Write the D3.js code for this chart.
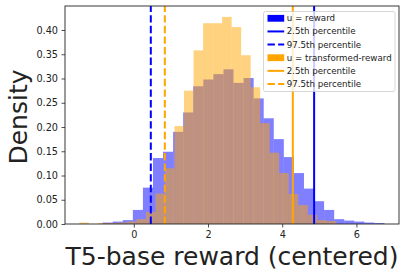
<!DOCTYPE html>
<html>
<head>
<meta charset="utf-8">
<script src="https://cdn.jsdelivr.net/npm/d3@7"></script>
<style>
  body { margin: 0; background: #fff; }
  text { font-family: "DejaVu Sans", sans-serif; fill: #222; }
</style>
</head>
<body>
<svg id="chart" width="406" height="276"></svg>
<script>

// histogram bins (range + count) and density per bin
var rewardRange = [-0.84, 6.757];
var rewardDensity = [0.003, 0.005, 0.008, 0.029, 0.075, 0.136, 0.149, 0.190, 0.230, 0.284,
  0.298, 0.309, 0.319, 0.291, 0.301, 0.259, 0.218, 0.175, 0.138, 0.105,
  0.073, 0.047, 0.029, 0.010, 0.007, 0.005, 0.003, 0.002];

var transformedRange = [-1.47, 5.46];
var transformedDensity = [0.003, 0, 0.002, 0.002, 0.003, 0.005, 0.010, 0.025, 0.063, 0.115,
  0.202, 0.275, 0.358, 0.414, 0.414, 0.427, 0.406, 0.348, 0.282, 0.208,
  0.147, 0.105, 0.062, 0.039, 0.019, 0.008, 0.006];

// percentile lines
var rewardLow = 4.86, rewardHigh = 0.458;
var transformedLow = 4.286, transformedHigh = 0.836;

var xTicks = [0, 2, 4, 6];
var yTicks = [0, 0.05, 0.10, 0.15, 0.20, 0.25, 0.30, 0.35, 0.40];

var legendLabels = ["u = reward", "2.5th percentile", "97.5th percentile",
  "u = transformed-reward", "2.5th percentile", "97.5th percentile"];

var margin = {top: 6, right: 7, bottom: 52, left: 65},
    width = 406 - margin.left - margin.right,
    height = 276 - margin.top - margin.bottom;

var svg = d3.select("#chart");
var g = svg.append("g")
    .attr("transform", "translate(" + margin.left + "," + margin.top + ")");

var x = d3.scaleLinear().domain([-1.855, 7.148]).range([0, width]);
var y = d3.scaleLinear().domain([0, 0.4495]).range([height, 0]);

function toBins(range, values) {
  var step = (range[1] - range[0]) / values.length;
  return values.map(function(v, i) {
    return {x0: range[0] + i * step, x1: range[0] + (i + 1) * step, v: v};
  });
}

function drawHist(values, range, color) {
  g.append("g").selectAll("rect")
    .data(toBins(range, values).filter(function(d) { return d.v > 0; }))
    .enter().append("rect")
      .attr("x", function(d) { return x(d.x0); })
      .attr("width", function(d) { return x(d.x1) - x(d.x0); })
      .attr("y", function(d) { return y(d.v); })
      .attr("height", function(d) { return height - y(d.v); })
      .attr("fill", color)
      .attr("fill-opacity", 0.5);
}

drawHist(rewardDensity, rewardRange, "blue");
drawHist(transformedDensity, transformedRange, "orange");

function vline(val, color, dashed) {
  g.append("line")
    .attr("x1", x(val)).attr("x2", x(val))
    .attr("y1", height).attr("y2", 0)
    .attr("stroke", color)
    .attr("stroke-width", 2)
    .attr("stroke-dasharray", dashed ? "7.4,3.2" : null);
}

vline(rewardLow, "blue", false);
vline(rewardHigh, "blue", true);
vline(transformedLow, "orange", false);
vline(transformedHigh, "orange", true);

// axes
var xAxis = g.append("g")
    .attr("transform", "translate(0," + height + ")")
    .call(d3.axisBottom(x).tickValues(xTicks).tickFormat(d3.format("d")).tickSize(3.5).tickPadding(3.5));
var yAxis = g.append("g")
    .call(d3.axisLeft(y).tickValues(yTicks).tickFormat(d3.format(".2f")).tickSize(3.5).tickPadding(3.5));

[xAxis, yAxis].forEach(function(a) {
  a.select(".domain").remove();
  a.selectAll("line").attr("stroke", "#222").attr("stroke-width", 0.8);
  a.selectAll("text").style("font-size", "9.7px").attr("fill", "#222");
});

g.append("rect")
  .attr("width", width).attr("height", height)
  .attr("fill", "none")
  .attr("stroke", "#222")
  .attr("stroke-width", 0.9);

// axis labels
svg.append("text")
  .attr("x", margin.left + width / 2)
  .attr("y", 265)
  .attr("text-anchor", "middle")
  .style("font-size", "25px")
  .text("T5-base reward (centered)");

svg.append("text")
  .attr("transform", "translate(27," + 117 + ") rotate(-90)")
  .attr("text-anchor", "middle")
  .style("font-size", "25px")
  .text("Density");

// legend
var legend = svg.append("g").attr("transform", "translate(263.5,11.5)");
legend.append("rect")
  .attr("width", 131.5).attr("height", 80)
  .attr("rx", 2)
  .attr("fill", "#fff").attr("fill-opacity", 0.8)
  .attr("stroke", "#ccc").attr("stroke-width", 0.8);

var legendKinds = ["patch", "solid", "dash", "patch", "solid", "dash"];
var legendColors = ["blue", "blue", "blue", "orange", "orange", "orange"];

legendLabels.forEach(function(lab, i) {
  var cy = 6.8 + i * 13.14;
  if (legendKinds[i] == "patch") {
    legend.append("rect")
      .attr("x", 4).attr("y", cy - 3.4)
      .attr("width", 16.7).attr("height", 6.8)
      .attr("fill", legendColors[i]);
  } else {
    legend.append("line")
      .attr("x1", 4).attr("x2", 20.7)
      .attr("y1", cy).attr("y2", cy)
      .attr("stroke", legendColors[i])
      .attr("stroke-width", 2)
      .attr("stroke-dasharray", legendKinds[i] == "dash" ? "7.4,3.2" : null);
  }
  legend.append("text")
    .attr("x", 23.2)
    .attr("y", cy)
    .attr("dy", "0.35em")
    .style("font-size", "8.7px")
    .text(lab);
});

</script>
</body>
</html>
